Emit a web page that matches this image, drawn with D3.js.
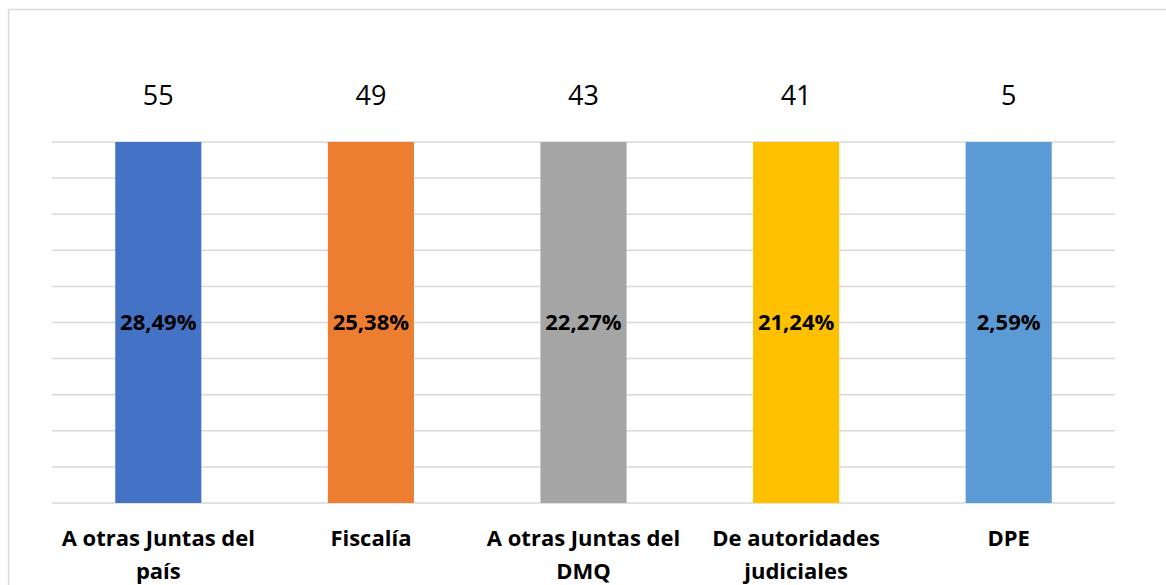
<!DOCTYPE html>
<html>
<head>
<meta charset="utf-8">
<script src="https://cdn.jsdelivr.net/npm/d3@7"></script>
<style>
  body { margin: 0; background: #fff; }
  svg { display: block; font-family: "Open Sans", "Noto Sans", sans-serif; }
</style>
</head>
<body>
<div class="chart"></div>
<script>
// chart data
const categories = ["A otras Juntas del país", "Fiscalía", "A otras Juntas del DMQ", "De autoridades judiciales", "DPE"];
const counts = [55, 49, 43, 41, 5];
const percentLabels = ["28,49%", "25,38%", "22,27%", "21,24%", "2,59%"];
const colors = ["#4472C4", "#ED7D31", "#A5A5A5", "#FFC000", "#5B9BD5"];
const yTicks = [0, 0.1, 0.2, 0.3, 0.4, 0.5, 0.6, 0.7, 0.8, 0.9, 1];

const width = 1166, height = 585;
const margin = {top: 142, right: 51, bottom: 82, left: 52};

const svg = d3.select(".chart").append("svg")
    .attr("width", width)
    .attr("height", height);

// outer chart frame (runs off the right/bottom edge)
svg.append("rect")
    .attr("x", 8.5).attr("y", 9.5)
    .attr("width", width + 20).attr("height", height + 20)
    .attr("fill", "#fff")
    .attr("stroke", "#D9D9D9")
    .attr("stroke-width", 1.5);

const x = d3.scaleBand()
    .domain(categories)
    .range([margin.left, width - margin.right])
    .paddingInner(0.595)
    .paddingOuter(0.2975);

const y = d3.scaleLinear()
    .domain([0, 1])
    .range([height - margin.bottom, margin.top]);

// gridlines
svg.append("g")
    .selectAll("line")
    .data(yTicks)
    .join("line")
    .attr("x1", margin.left)
    .attr("x2", width - margin.right)
    .attr("y1", d => y(d))
    .attr("y2", d => y(d))
    .attr("stroke", "#D9D9D9")
    .attr("stroke-width", 1.5);

// each bar is a 100% stack of its own series
const rows = categories.map((c, i) => ({cat: c, count: counts[i], pct: percentLabels[i], color: colors[i]}));

svg.append("g")
    .selectAll("rect")
    .data(rows)
    .join("rect")
    .attr("x", d => x(d.cat))
    .attr("width", x.bandwidth())
    .attr("y", d => y(d.count / d.count))
    .attr("height", d => y(0) - y(d.count / d.count))
    .attr("fill", d => d.color);

// count labels above bars
svg.append("g")
    .selectAll("text")
    .data(rows)
    .join("text")
    .attr("x", d => x(d.cat) + x.bandwidth() / 2)
    .attr("y", y(1) - 37)
    .attr("text-anchor", "middle")
    .attr("font-size", 27)
    .attr("fill", "#000")
    .text(d => d.count);

// percentage labels inside bars
svg.append("g")
    .selectAll("text")
    .data(rows)
    .join("text")
    .attr("x", d => x(d.cat) + x.bandwidth() / 2)
    .attr("y", y(0.5))
    .attr("dy", "0.35em")
    .attr("text-anchor", "middle")
    .attr("font-size", 22)
    .attr("font-weight", "bold")
    .attr("fill", "#000")
    .text(d => d.pct);

// category axis (no ticks or domain line, gridline at 0 acts as baseline)
const xAxis = svg.append("g")
    .attr("transform", `translate(0,${y(0)})`)
    .call(d3.axisBottom(x).tickSize(0).tickPadding(0));
xAxis.select(".domain").remove();
xAxis.selectAll("text")
    .attr("font-family", "\"Open Sans\", sans-serif")
    .attr("font-size", 22)
    .attr("font-weight", "bold")
    .attr("fill", "#000")
    .attr("y", 43)
    .attr("dy", 0)
    .call(wrap, x.step() - 4);

function wrap(texts, maxWidth) {
  texts.each(function() {
    const text = d3.select(this);
    const words = text.text().split(/\s+/);
    const yPos = text.attr("y");
    text.text(null);
    let line = [];
    let lineNo = 0;
    let tspan = text.append("tspan").attr("x", 0).attr("y", yPos);
    words.forEach(w => {
      line.push(w);
      tspan.text(line.join(" "));
      if (tspan.node().getComputedTextLength() > maxWidth && line.length > 1) {
        line.pop();
        tspan.text(line.join(" "));
        line = [w];
        lineNo++;
        tspan = text.append("tspan").attr("x", 0).attr("y", +yPos + lineNo * 33).text(w);
      }
    });
  });
}
</script>
</body>
</html>
